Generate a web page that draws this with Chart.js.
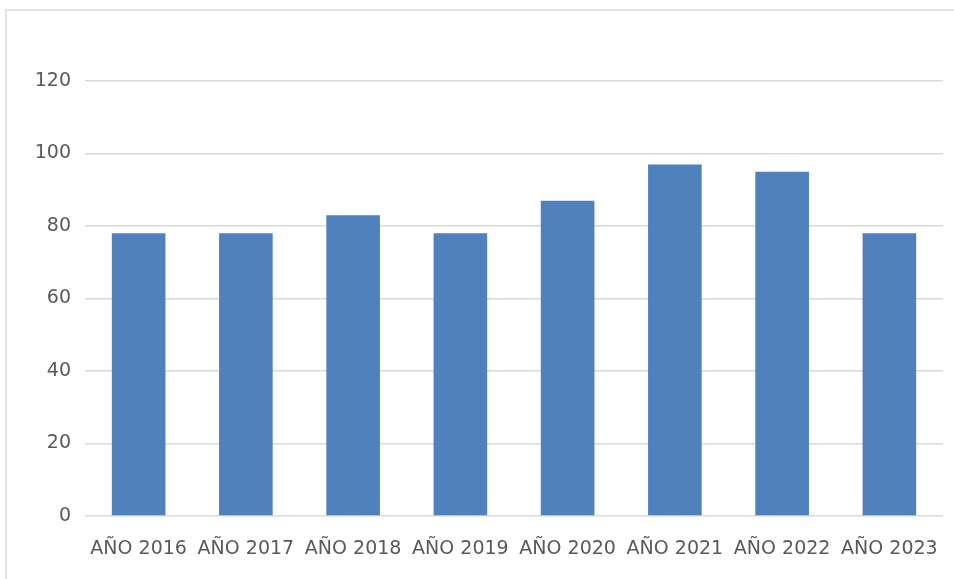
<!DOCTYPE html>
<html>
<head>
<meta charset="utf-8">
<script src="https://cdn.jsdelivr.net/npm/chart.js@4.4.0/dist/chart.umd.min.js"></script>
<style>
  html, body { margin: 0; background: #fff; overflow: hidden; width: 954px; height: 579px; }
  #frame {
    position: absolute; left: 5px; top: 9px; width: 960px; height: 580px;
    border-left: 2px solid #e3e3e3; border-top: 2px solid #e3e3e3;
  }
  #wrap { position: absolute; left: 0; top: 0; width: 954px; height: 579px; }
</style>
</head>
<body>
<div id="frame"></div>
<div id="wrap"><canvas id="myChart"></canvas></div>
<script>
const years = ['AÑO 2016', 'AÑO 2017', 'AÑO 2018', 'AÑO 2019', 'AÑO 2020', 'AÑO 2021', 'AÑO 2022', 'AÑO 2023'];
const values = [78, 78, 83, 78, 87, 97, 95, 78];
const yTicks = [0, 20, 40, 60, 80, 100, 120];

const ctx = document.getElementById('myChart');

new Chart(ctx, {
    type: 'bar',
    data: {
        labels: years,
        datasets: [{
            data: values,
            backgroundColor: '#4f81bd',
            borderWidth: 0,
            categoryPercentage: 1,
            barPercentage: 0.5
        }]
    },
    options: {
        responsive: true,
        maintainAspectRatio: false,
        animation: false,
        layout: {
            padding: { top: 81, right: 11, bottom: 0, left: 0 }
        },
        scales: {
            x: {
                grid: { display: false },
                border: { display: false },
                ticks: {
                    color: '#595959',
                    padding: 14,
                    maxRotation: 0,
                    autoSkip: false,
                    font: { family: 'DejaVu Sans', size: 19 }
                },
                afterFit: (s) => { s.height = 63; }
            },
            y: {
                min: 0,
                max: yTicks[yTicks.length - 1],
                afterBuildTicks: (s) => { s.ticks = yTicks.map(v => ({ value: v })); },
                grid: { color: '#d9d9d9', lineWidth: 1.5, drawTicks: false },
                border: { display: false },
                ticks: {
                    color: '#595959',
                    padding: 14,
                    font: { family: 'DejaVu Sans', size: 19 }
                },
                afterFit: (s) => { s.width = 85; }
            }
        },
        plugins: {
            legend: { display: false },
            tooltip: { enabled: false }
        }
    }
});
</script>
</body>
</html>
